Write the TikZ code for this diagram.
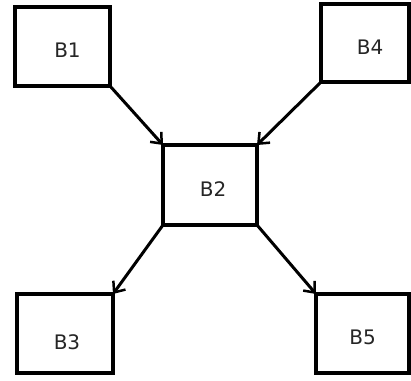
\documentclass[tikz,border=0pt]{standalone}
\usepackage{fontspec}
\setmainfont{DejaVu Sans}
\usetikzlibrary{arrows.meta}
\begin{document}
\begin{tikzpicture}[x=1pt,y=-1pt,
  box/.style={draw=black, line width=4pt, inner sep=0pt, outer sep=0pt, fill=white},
  lbl/.style={font=\fontsize{20}{22}\selectfont, text=black!85},
  conn/.style={line width=3pt, -{Straight Barb[length=9pt,width=15pt,line width=2.5pt]}}]
\useasboundingbox (0,0) rectangle (411,380);
\node[box, minimum width=95pt, minimum height=79pt,
  label={[lbl, shift={(5pt,-3.5pt)}]center:B1}] (b1) at (62.5,46.5) {};
\node[box, minimum width=88pt, minimum height=78pt,
  label={[lbl, shift={(5pt,-4pt)}]center:B4}] (b4) at (365,43) {};
\node[box, minimum width=94pt, minimum height=80pt,
  label={[lbl, shift={(3pt,-4pt)}]center:B2}] (b2) at (210,185) {};
\node[box, minimum width=96pt, minimum height=79pt,
  label={[lbl, shift={(2pt,-9pt)}]center:B3}] (b3) at (65,333.5) {};
\node[box, minimum width=93pt, minimum height=79pt,
  label={[lbl, shift={(0pt,-4pt)}]center:B5}] (b5) at (362.5,333.5) {};
\draw[conn] (b1.south east) -- (b2.north west);
\draw[conn] (b4.south west) -- (b2.north east);
\draw[conn] (b2.south west) -- (b3.north east);
\draw[conn] (b2.south east) -- (b5.north west);
\end{tikzpicture}
\end{document}
